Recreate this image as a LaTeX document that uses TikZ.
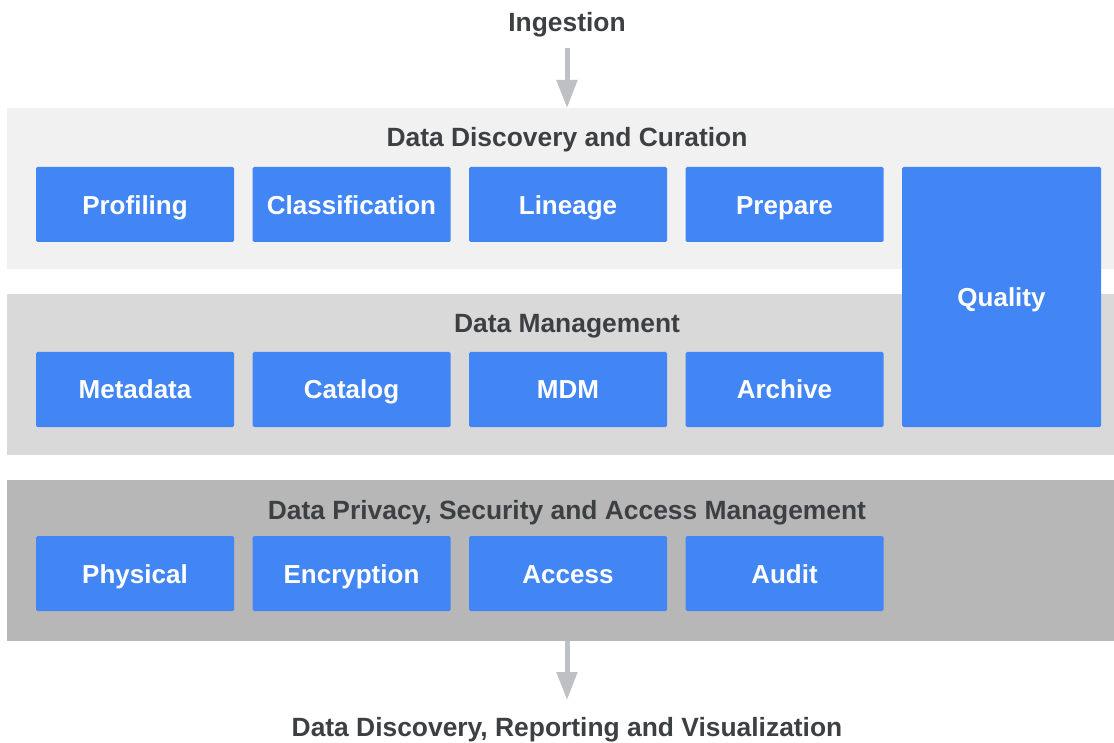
\documentclass[tikz,border=0pt]{standalone}
\usepackage{fontspec}
\setmainfont{Liberation Sans}
\usetikzlibrary{arrows.meta}
\definecolor{bandA}{HTML}{F1F1F1}
\definecolor{bandB}{HTML}{D9D9D9}
\definecolor{bandC}{HTML}{B7B7B7}
\definecolor{boxblue}{HTML}{4285F4}
\definecolor{titlegray}{HTML}{3C4043}
\definecolor{arrowgray}{HTML}{BDC1C6}
\begin{document}
\begin{tikzpicture}[x=1pt,y=-1pt,
  band/.style={anchor=north west,minimum width=1107pt,minimum height=161pt,inner sep=0pt,outer sep=0pt},
  bluebox/.style={anchor=north west,fill=boxblue,rounded corners=1.5pt,minimum width=198pt,minimum height=75pt,inner sep=0pt,outer sep=0pt},
  boxlabel/.style={anchor=base,text=white,font=\bfseries\fontsize{26}{30}\selectfont,inner sep=0pt},
  title/.style={anchor=base,text=titlegray,font=\bfseries\fontsize{26.4}{30}\selectfont,inner sep=0pt},
  flow/.style={draw=arrowgray,line width=5pt,-{Triangle[width=20pt,length=28pt]}}
]
\useasboundingbox (0,0) rectangle (1114,743);

% bands
\node[band,fill=bandA] (b1) at (7,108) {};
\node[band,fill=bandB] (b2) at (7,294) {};
\node[band,fill=bandC] (b3) at (7,480) {};

% titles
\node[title] (ing) at (567,32) {Ingestion};
\node[title] (t1) at (567,147) {Data Discovery and Curation};
\node[title] (t2) at (567,333) {Data Management};
\node[title] (t3) at (567,519) {Data Privacy, Security and Access Management};
\node[title] (out) at (567,736) {Data Discovery, Reporting and Visualization};

% row 1
\node[bluebox] (prof) at (36,167) {};
\node[bluebox] (clas) at (252.5,167) {};
\node[bluebox] (lin) at (469,167) {};
\node[bluebox] (prep) at (685.5,167) {};
\node[boxlabel] (lprof) at (135,214.5) {Profiling};
\node[boxlabel] (lclas) at (351.5,214.5) {Classification};
\node[boxlabel] (llin) at (568,214.5) {Lineage};
\node[boxlabel] (lprep) at (784.5,214.5) {Prepare};

% row 2
\node[bluebox] (meta) at (36,352) {};
\node[bluebox] (cat) at (252.5,352) {};
\node[bluebox] (mdm) at (469,352) {};
\node[bluebox] (arch) at (685.5,352) {};
\node[boxlabel] (lmeta) at (135,398.5) {Metadata};
\node[boxlabel] (lcat) at (351.5,398.5) {Catalog};
\node[boxlabel] (lmdm) at (568,398.5) {MDM};
\node[boxlabel] (larch) at (784.5,398.5) {Archive};

% row 3
\node[bluebox] (phys) at (36,536) {};
\node[bluebox] (enc) at (252.5,536) {};
\node[bluebox] (acc) at (469,536) {};
\node[bluebox] (aud) at (685.5,536) {};
\node[boxlabel] (lphys) at (135,583) {Physical};
\node[boxlabel] (lenc) at (351.5,583) {Encryption};
\node[boxlabel] (lacc) at (568,583) {Access};
\node[boxlabel] (laud) at (784.5,583) {Audit};

% quality
\node[bluebox,minimum width=199pt,minimum height=260pt] (qual) at (902,167) {};
\node[boxlabel] (lqual) at (1001.5,306.5) {Quality};

% arrows
\coordinate (inTop) at (567,48);
\coordinate (inTip) at (567,108);
\coordinate (outTop) at (567,641);
\coordinate (outTip) at (567,700);
\draw[flow] (inTop) -- (inTip);
\draw[flow] (outTop) -- (outTip);
\end{tikzpicture}
\end{document}
